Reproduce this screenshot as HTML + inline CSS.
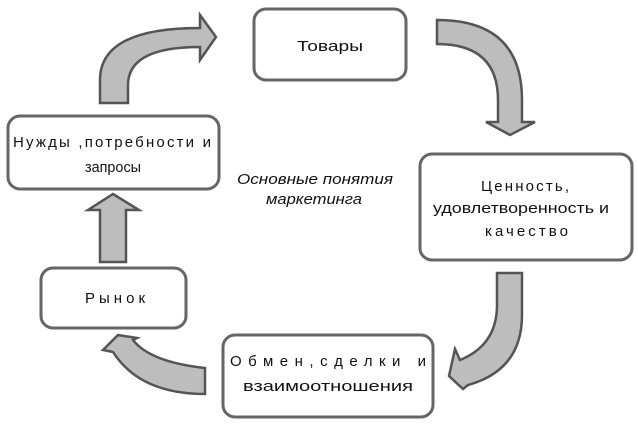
<!DOCTYPE html>
<html><head><meta charset="utf-8"><style>
html,body{margin:0;padding:0;background:#fff;width:638px;height:425px;overflow:hidden}
text{font-family:"Liberation Sans Narrow","Liberation Sans",sans-serif;font-size:15px;fill:#111}
</style></head><body>
<svg width="638" height="425" viewBox="0 0 638 425" xmlns="http://www.w3.org/2000/svg">
<g fill="#fff" stroke="#666" stroke-width="3">
<rect x="254" y="9" width="152" height="71" rx="12"/>
<rect x="420" y="154" width="212" height="106" rx="12"/>
<rect x="223" y="335" width="210" height="82" rx="12"/>
<rect x="41" y="268" width="145" height="60" rx="12"/>
<rect x="8" y="116" width="211" height="73" rx="12"/>
</g>
<g fill="#bdbdbd" stroke="#555" stroke-width="2.5" stroke-linejoin="miter">
<path d="M100,103 L100,80 Q100,28 200,28 L200,15 L216,37 L200,60 L200,47 Q128,47 128,85 L128,103 Z"/>
<path d="M437,20 Q522,20 522,100 L522,122 L535,122 L510,135 L486,122 L498,122 L498,100 Q498,44 437,44 Z"/>
<path d="M497,273 L522,273 L522,315 Q522,370 468,385 L463,389 L449,376 L455,349 L460,360 Q497,345 497,305 Z"/>
<path d="M205,368 Q150,362 133,340 L137,338 L118,335 L103,350 L113,352 Q140,394 205,394 Z"/>
<path d="M100,262 L100,210 L88,210 L113,194 L139,210 L126,210 L126,262 Z"/>
</g>
<text x="297" y="51" textLength="66" lengthAdjust="spacingAndGlyphs">Товары</text>
<text x="13" y="147" textLength="198" lengthAdjust="spacing">Нужды ,потребности  и</text>
<text x="85" y="172" textLength="56" lengthAdjust="spacingAndGlyphs">запросы</text>
<text x="481" y="191" textLength="88" lengthAdjust="spacing">Ценность,</text>
<text x="433" y="213" textLength="176" lengthAdjust="spacingAndGlyphs">удовлетворенность и</text>
<text x="485" y="236" textLength="83" lengthAdjust="spacing">качество</text>
<text x="230" y="366" textLength="196" lengthAdjust="spacing">Обмен,сделки и</text>
<text x="243" y="391" textLength="170" lengthAdjust="spacingAndGlyphs">взаимоотношения</text>
<text x="85" y="303" textLength="60" lengthAdjust="spacing">Рынок</text>
<text x="237" y="184" textLength="156" lengthAdjust="spacingAndGlyphs" font-style="italic">Основные понятия</text>
<text x="266" y="204" textLength="96" lengthAdjust="spacingAndGlyphs" font-style="italic">маркетинга</text>
</svg>
</body></html>
